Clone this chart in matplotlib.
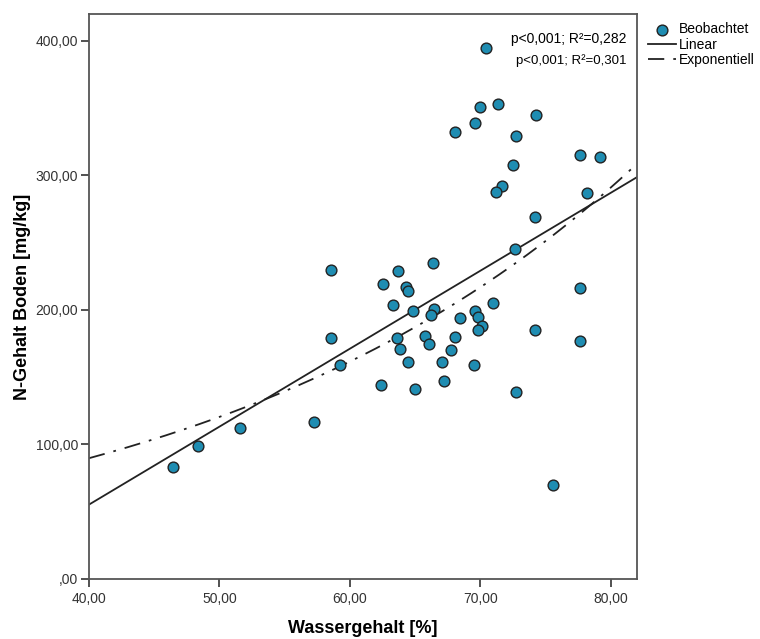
import numpy as np
import matplotlib.pyplot as plt
from matplotlib.ticker import FuncFormatter

plt.rcParams['font.family'] = ['Liberation Sans', 'DejaVu Sans']

# Wassergehalt [%] and N-Gehalt Boden [mg/kg]
wasser = [70.45, 69.95, 71.37, 74.22, 69.6, 68.03, 72.69, 77.61, 79.14, 72.49,
          71.65, 71.17, 78.17, 74.17, 72.66, 66.4, 63.67, 62.5, 64.29, 64.43,
          77.61, 58.58, 58.58, 59.2, 57.28, 51.54, 48.36, 46.45, 63.27, 64.8,
          66.45, 66.2, 70.99, 69.56, 69.79, 68.42, 70.15, 69.79, 74.2, 77.61,
          63.62, 65.76, 66.02, 68.03, 63.8, 67.73, 64.41, 67.03, 69.5, 62.38,
          64.95, 67.18, 72.7, 75.55]
n_gehalt = [395, 351, 353, 345, 339, 332, 329, 315, 314, 308,
            292, 288, 287, 269, 245, 235, 229, 219, 217, 214,
            216, 230, 179, 159, 117, 112, 99, 83, 204, 199,
            201, 196, 205, 199, 195, 194, 188, 185, 185, 177,
            179, 181, 175, 180, 171, 170, 161, 161, 159, 144,
            141, 147, 139, 70]
stats_text = ['p<0,001; R²=0,282', 'p<0,001; R²=0,301']

x = np.array(wasser)
y = np.array(n_gehalt)
lin = np.polyfit(x, y, 1)
expo = np.polyfit(x, np.log(y), 1)

fig = plt.figure(figsize=(7.6, 6.39), dpi=100)
ax = fig.add_axes([0.1171, 0.0939, 0.7211, 0.8842])
ax.set_xlim(40, 82)
ax.set_ylim(0, 420)

xs = np.linspace(40, 82, 200)
ax.scatter(x, y, s=60, color='#1f8db2', edgecolor='#222222', linewidth=1, zorder=3,
           label='Beobachtet')
ax.plot(xs, np.polyval(lin, xs), color='#222222', lw=1.3, label='Linear')
ax.plot(xs, np.exp(np.polyval(expo, xs)), color='#222222', lw=1.3,
        dashes=(9, 5, 1.5, 5), label='Exponentiell')

ax.text(0.98, 0.955, stats_text[0], transform=ax.transAxes, ha='right', va='center',
        fontsize=10)
ax.text(0.98, 0.918, stats_text[1], transform=ax.transAxes, ha='right', va='center',
        fontsize=9.5)

def fmt(v, pos):
    s = f'{v:.2f}'.replace('.', ',')
    return s[1:] if s.startswith('0') else s

ax.set_xticks([40, 50, 60, 70, 80])
ax.set_yticks([0, 100, 200, 300, 400])
ax.xaxis.set_major_formatter(FuncFormatter(fmt))
ax.yaxis.set_major_formatter(FuncFormatter(fmt))
ax.tick_params(direction='out', length=6, width=1.2, labelsize=10, colors='#333333')
ax.tick_params(axis='y', pad=2)
for sp in ax.spines.values():
    sp.set_color('#555555')
    sp.set_linewidth(1.3)

ax.set_xlabel('Wassergehalt [%]', fontsize=13, fontweight='bold', labelpad=10)
ax.set_ylabel('N-Gehalt Boden [mg/kg]', fontsize=13, fontweight='bold', labelpad=3)

ax.legend(loc='upper left', bbox_to_anchor=(1.005, 1.0), frameon=False, fontsize=10,
          handlelength=2.0, handletextpad=0.2, labelspacing=0.1, borderaxespad=0.2)

fig.savefig('out.png', dpi=100)
